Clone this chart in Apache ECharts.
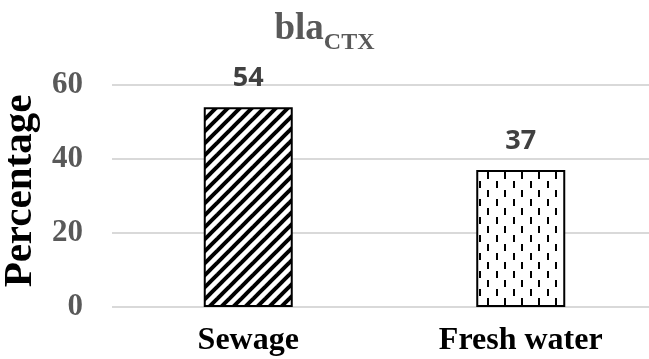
<!DOCTYPE html>
<html><head><meta charset="utf-8">
<script src="https://cdn.jsdelivr.net/npm/echarts@6/dist/echarts.min.js"></script>
<style>html,body{margin:0;padding:0;background:#fff}#c{width:649px;height:359px}</style>
</head><body><div id="c"></div>
<script>
const categories = ['Sewage', 'Fresh water'];
const values = [54, 37];
const yMin = 0, yMax = 60, yStep = 20;
const titleMain = 'bla', titleSub = 'CTX';
const yName = 'Percentage';

function stripes() {
  const s = 12, c = document.createElement('canvas');
  c.width = s; c.height = s;
  const g = c.getContext('2d');
  g.fillStyle = '#fff'; g.fillRect(0, 0, s, s);
  g.strokeStyle = '#000'; g.lineWidth = 4;
  for (const k of [-s, 0, s]) {
    g.beginPath(); g.moveTo(k - 2, s + 2); g.lineTo(k + s + 2, -2); g.stroke();
  }
  return c;
}
function dashes() {
  const w = 17, h = 18, c = document.createElement('canvas');
  c.width = w; c.height = h;
  const g = c.getContext('2d');
  g.fillStyle = '#fff'; g.fillRect(0, 0, w, h);
  g.fillStyle = '#000';
  g.fillRect(3, 1, 2, 7);
  g.fillRect(11, 10, 2, 7);
  return c;
}
const serif = 'Liberation Serif';
const chart = echarts.init(document.getElementById('c'), null, { renderer: 'canvas' });
chart.setOption({
  animation: false,
  backgroundColor: '#fff',
  title: {
    text: '{a|' + titleMain + '}{b|' + titleSub + '}',
    left: 'center', top: 6,
    textStyle: {
      rich: {
        a: { fontFamily: serif, fontWeight: 'bold', fontSize: 37, lineHeight: 38, color: '#595959', verticalAlign: 'top' },
        b: { fontFamily: serif, fontWeight: 'bold', fontSize: 24, lineHeight: 25, color: '#595959', verticalAlign: 'top', padding: [20, 0, 0, 0] }
      }
    }
  },
  grid: { left: 112, right: -8, top: 85, bottom: 52, containLabel: false, outerBoundsMode: 'none' },
  xAxis: {
    type: 'category', data: categories,
    axisLine: { show: false }, axisTick: { show: false },
    axisLabel: { margin: 18, fontFamily: serif, fontWeight: 'bold', fontSize: 32, color: '#000' }
  },
  yAxis: {
    type: 'value', min: yMin, max: yMax, interval: yStep,
    name: yName, nameLocation: 'middle', nameGap: 63,
    nameTextStyle: { fontFamily: serif, fontWeight: 'bold', fontSize: 41, color: '#000', padding: [0, 0, 0, 10] },
    axisLine: { show: false }, axisTick: { show: false },
    axisLabel: { margin: 29, fontFamily: serif, fontWeight: 'bold', fontSize: 31, color: '#595959' },
    splitLine: { lineStyle: { color: '#d9d9d9', width: 2 } }
  },
  series: [{
    type: 'bar',
    data: values.map((v, i) => ({ value: v, itemStyle: { color: { image: i === 0 ? stripes() : dashes(), repeat: 'repeat' } } })),
    barWidth: 89,
    itemStyle: { borderColor: '#000', borderWidth: 2 },
    label: { show: true, position: 'top', distance: 15, fontFamily: 'Open Sans', fontWeight: 'bold', fontSize: 27, color: '#404040' }
  }]
});
</script></body></html>
